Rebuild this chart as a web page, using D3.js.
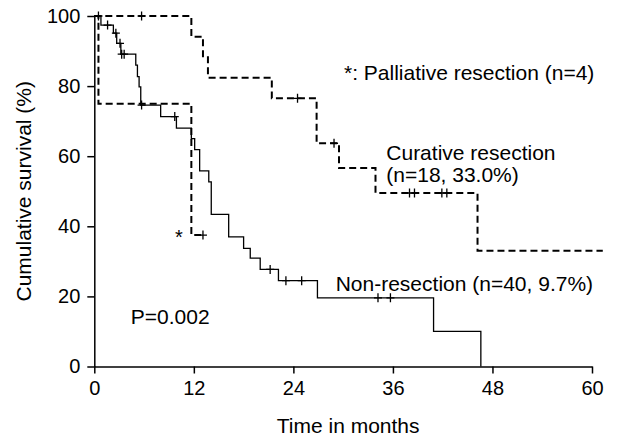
<!DOCTYPE html>
<html>
<head>
<meta charset="utf-8">
<script src="https://cdn.jsdelivr.net/npm/d3@7"></script>
<style>
  body { margin: 0; background: #fff; }
  svg { display: block; font-family: "Liberation Sans", Arial, sans-serif; }
</style>
</head>
<body>
<svg id="chart"></svg>
<script>
// x axis ticks (months) and y axis ticks (%)
const xTicks = [0, 12, 24, 36, 48, 60];
const yTicks = [0, 20, 40, 60, 80, 100];

// Non-resection (n=40) – solid
const nonTime = [0, 0.8, 2.3, 2.7, 3.2, 5.0, 5.2, 5.4, 5.6, 8.0, 9.9, 11.7, 12.1, 12.7, 13.8, 14.1, 16.2, 18.0, 18.8, 20.0, 22.2, 26.9, 40.9, 46.6];
const nonSurv = [100, 97.4, 95.1, 92.2, 89.1, 86.0, 82.7, 79.8, 74.6, 71.3, 68.0, 65.0, 61.9, 55.8, 52.7, 43.4, 37.0, 33.7, 30.9, 27.7, 24.5, 19.6, 10.0, 0];
const nonCensor = [0.5, 1.6, 2.6, 3.1, 3.3, 3.6, 5.7, 9.7, 21.2, 23.1, 25.0, 34.2, 35.7];

// Curative resection (n=18) – dashed
const curTime = [0, 11.7, 13.1, 13.7, 21.4, 26.8, 29.5, 33.9, 46.2, 61.3];
const curSurv = [100, 94.1, 88.2, 82.4, 76.5, 63.7, 56.6, 49.5, 33.0, 33.0];
const curCensor = [5.7, 24.5, 28.9, 38.0, 38.6, 41.9, 42.5];

// Palliative resection (n=4) – dashed
const palTime = [0, 0.5, 11.7, 13.3];
const palSurv = [100, 75, 37.5, 37.5];
const palCensor = [13.1];

const width = 618, height = 437;
const margin = { top: 16, right: 26, bottom: 70.5, left: 94.3 };

const svg = d3.select("#chart").attr("width", width).attr("height", height);

const x = d3.scaleLinear().domain([0, 60]).range([margin.left, width - margin.right]);
const y = d3.scaleLinear().domain([0, 100]).range([height - margin.bottom, margin.top]);

// axes
const xAxis = svg.append("g")
    .attr("transform", `translate(0,${y(0)})`)
    .call(d3.axisBottom(x).tickValues(xTicks).tickSize(7).tickPadding(7.5).tickSizeOuter(0));
const yAxis = svg.append("g")
    .attr("transform", `translate(${x(0)},0)`)
    .call(d3.axisLeft(y).tickValues(yTicks).tickSize(7).tickPadding(7).tickSizeOuter(0));

[xAxis, yAxis].forEach(g => {
    g.select(".domain").attr("stroke", "#000").attr("stroke-width", 1.5);
    g.selectAll(".tick line").attr("stroke", "#000").attr("stroke-width", 1.5);
    g.selectAll(".tick text").attr("fill", "#000").style("font-size", "20px")
     .style("font-family", "'Liberation Sans', Arial, sans-serif");
});

// step curves
const line = d3.line().x(d => x(d[0])).y(d => y(d[1])).curve(d3.curveStepAfter);
const zip = (t, s) => t.map((v, i) => [v, s[i]]);

const survAt = (t, s, time) => {
    let v = s[0];
    for (let i = 0; i < t.length; i++) if (t[i] <= time) v = s[i];
    return v;
};

const drawCurve = (times, surv, censors, dashed) => {
    svg.append("path")
       .attr("d", line(zip(times, surv)))
       .attr("fill", "none")
       .attr("stroke", "#000")
       .attr("stroke-width", dashed ? 2 : 1.3)
       .attr("stroke-dasharray", dashed ? "7,4" : null);

    censors.forEach(c => {
        const cx = x(c), cy = y(survAt(times, surv, c));
        svg.append("path")
           .attr("d", `M${cx - 4},${cy}H${cx + 4}M${cx},${cy - 4.5}V${cy + 4.5}`)
           .attr("stroke", "#000")
           .attr("stroke-width", 1.3);
    });
};

drawCurve(curTime, curSurv, curCensor, true);
drawCurve(palTime, palSurv, palCensor, true);
drawCurve(nonTime, nonSurv, nonCensor, false);

// text labels
const label = (t, s, txt, size) => svg.append("text")
    .attr("x", x(t)).attr("y", y(s))
    .attr("fill", "#000")
    .style("font-size", (size || 21) + "px")
    .text(txt);

label(30.1, 81.7, "*: Palliative resection (n=4)");
label(35.2, 58.9, "Curative resection");
label(35.2, 52.5, "(n=18, 33.0%)");
label(29.1, 21.6, "Non-resection (n=40, 9.7%)");
label(4.4, 12.1, "P=0.002");
label(10.2, 35, "*", 20).attr("text-anchor", "middle");

// axis titles
svg.append("text")
   .attr("x", (x(0) + x(60)) / 2 + 5)
   .attr("y", 433)
   .attr("text-anchor", "middle")
   .attr("fill", "#000")
   .style("font-size", "21px")
   .text("Time in months");

svg.append("text")
   .attr("transform", `translate(31,${(y(0) + y(100)) / 2}) rotate(-90)`)
   .attr("text-anchor", "middle")
   .attr("fill", "#000")
   .style("font-size", "21px")
   .text("Cumulative survival (%)");
</script>
</body>
</html>
